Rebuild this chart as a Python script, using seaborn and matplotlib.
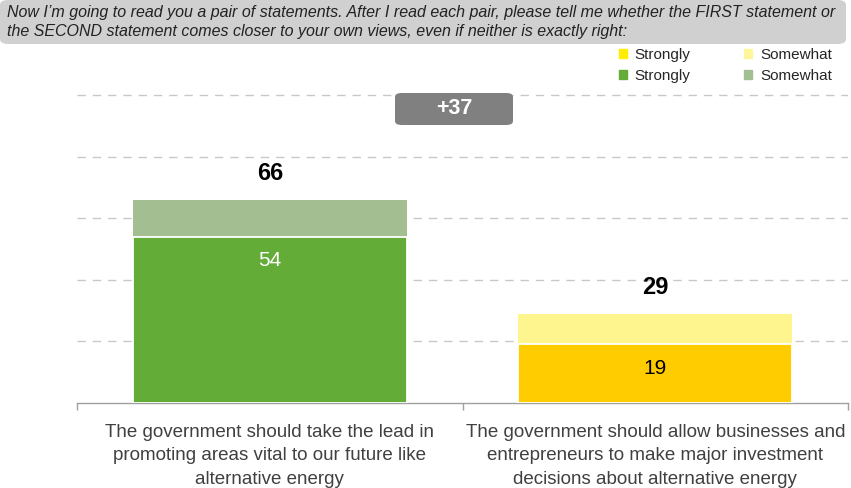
import matplotlib
matplotlib.use("Agg")
import matplotlib.pyplot as plt
import seaborn as sns
import pandas as pd
from matplotlib.patches import FancyBboxPatch, Patch

categories = [
    "The government should take the lead in\npromoting areas vital to our future like\nalternative energy",
    "The government should allow businesses and\nentrepreneurs to make major investment\ndecisions about alternative energy",
]
strongly = [54, 19]
somewhat = [12, 10]
totals = [66, 29]
gap_label = "+37"
grid_vals = [20, 40, 60, 80, 100]

title = ("Now I\u2019m going to read you a pair of statements. After I read each pair, please tell me whether the FIRST statement or\n"
         "the SECOND statement comes closer to your own views, even if neither is exactly right:")

dark_cols = ["#62AC37", "#FFCC00"]
light_cols = ["#A3BE91", "#FFF58F"]
legend_cols = {"ys": "#FFEE00", "yw": "#FFF59A", "gs": "#62AC37", "gw": "#A3BE91"}

sns.set_theme(style="white")
plt.rcParams["font.family"] = ["Liberation Sans", "DejaVu Sans"]

W, H = 851, 488
fig = plt.figure(figsize=(W / 100, H / 100), dpi=100)

ax_left, ax_right = 77, 848
ymax = 110
ppu = 3.08
ax_bottom_px = 403
ax_top_px = ax_bottom_px - ymax * ppu
ax = fig.add_axes([ax_left / W, 1 - ax_bottom_px / H, (ax_right - ax_left) / W, (ax_bottom_px - ax_top_px) / H])

df = pd.DataFrame({"cat": categories, "strongly": strongly, "somewhat": somewhat, "total": totals})

sns.barplot(data=df, x="cat", y="total", hue="cat", palette=light_cols, width=0.71, saturation=1,
            edgecolor="white", linewidth=0, legend=False, ax=ax, zorder=3)
sns.barplot(data=df, x="cat", y="strongly", hue="cat", palette=dark_cols, width=0.71, saturation=1,
            edgecolor="white", linewidth=1.3, legend=False, ax=ax, zorder=4)

ax.set_xlim(-0.5, 1.5)
ax.set_ylim(0, ymax)
for g in grid_vals:
    ax.axhline(g, color="#c8c8c8", lw=1, ls=(0, (6, 5)), zorder=1)

for s in ["top", "right", "left"]:
    ax.spines[s].set_visible(False)
ax.spines["bottom"].set_color("#a0a0a0")
ax.spines["bottom"].set_linewidth(1)
ax.set_yticks([])
ax.set_xlabel("")
ax.set_ylabel("")
ax.set_xticks([0, 1])
ax.set_xticklabels(categories, fontsize=13.5, color="#404040", linespacing=1.5)
ax.tick_params(axis="x", which="major", length=0, pad=15)
ax.set_xticks([-0.5, 0.5, 1.5], minor=True)
ax.tick_params(axis="x", which="minor", length=5, color="#a0a0a0", width=1, direction="out", bottom=True)

inner_colors = ["white", "black"]
for i in range(2):
    ax.annotate(str(totals[i]), (i, totals[i]), xytext=(0, 19), textcoords="offset points",
                ha="center", va="center", fontsize=17, fontweight="bold", color="black", zorder=6)
    ax.annotate(str(strongly[i]), (i, strongly[i]), xytext=(0, -17), textcoords="offset points",
                ha="center", va="center", fontsize=15, color=inner_colors[i], zorder=6)

# gap box
bx0, by0, bw, bh = 395, 93, 118, 32
fig.patches.append(FancyBboxPatch((bx0 / W, 1 - (by0 + bh) / H), bw / W, bh / H,
                                  boxstyle="round,pad=0,rounding_size=0.008",
                                  transform=fig.transFigure, facecolor="#808080", edgecolor="none", zorder=10))
fig.text((bx0 + bw / 2) / W, 1 - (by0 + bh / 2) / H, gap_label, ha="center", va="center",
         fontsize=15.5, fontweight="bold", color="white", zorder=11)

# title box
fig.patches.append(FancyBboxPatch((0 / W, 1 - 44 / H), 846 / W, 44 / H,
                                  boxstyle="round,pad=0,rounding_size=0.01",
                                  transform=fig.transFigure, facecolor="#d0d0d0", edgecolor="none", zorder=0))
fig.text(7 / W, 1 - 22 / H, title, ha="left", va="center", fontsize=11.5, style="italic",
         color="#222222", linespacing=1.35)

# legend
handles = [Patch(color=legend_cols["ys"], label="Strongly"), Patch(color=legend_cols["gs"], label="Strongly"),
           Patch(color=legend_cols["yw"], label="Somewhat"), Patch(color=legend_cols["gw"], label="Somewhat")]
fig.legend(handles=handles, ncol=2, loc="upper right", bbox_to_anchor=(832 / W, 1 - 48 / H),
           frameon=False, fontsize=11, handlelength=0.55, handleheight=0.55, handletextpad=0.5,
           columnspacing=3.5, labelspacing=0.45, borderpad=0, borderaxespad=0)

fig.savefig("out.png", dpi=100)
